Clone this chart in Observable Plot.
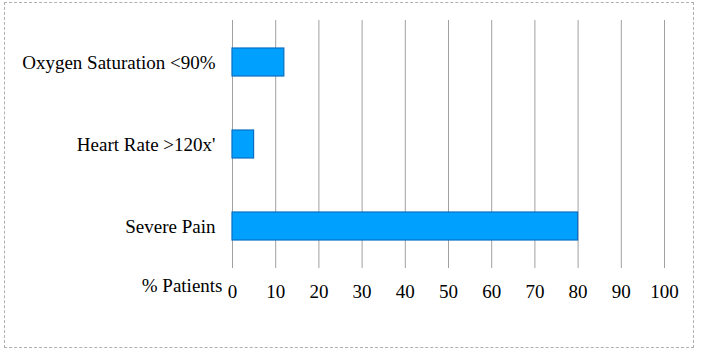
<!DOCTYPE html>
<html>
<head>
<meta charset="utf-8">
<script src="https://cdn.jsdelivr.net/npm/d3@7"></script>
<script src="https://cdn.jsdelivr.net/npm/@observablehq/plot@0.6"></script>
<style>
  html, body { margin: 0; padding: 0; background: #fff; }
  #wrap { position: relative; width: 701px; height: 353px; }
  #border { position: absolute; left: 4px; top: 2px; width: 690px; height: 346px; border: 1px dashed #b0b0b0; box-sizing: border-box; pointer-events: none; }
  #chart svg { display: block; font-family: "Liberation Serif"; font-size: 19px; }
  #chart svg text { font-family: "Liberation Serif" !important; font-size: 19px !important; fill: #000 !important; }
</style>
</head>
<body>
<div id="wrap">
  <div id="chart"></div>
  <div id="border"></div>
</div>
<script>
const categories = ["Oxygen Saturation <90%", "Heart Rate >120x'", "Severe Pain"];
const values = [12, 5, 80];
const xTicks = [0, 10, 20, 30, 40, 50, 60, 70, 80, 90, 100];
const axisTitle = "% Patients";

const data = categories.map((c, i) => ({category: c, value: values[i]}));

const chart = Plot.plot({
  width: 701,
  height: 353,
  marginLeft: 232,
  marginRight: 37,
  marginTop: 20,
  marginBottom: 85,
  style: {background: "transparent"},
  x: {domain: [0, 100], ticks: xTicks, tickSize: 0, tickPadding: 16, label: null},
  y: {domain: categories, paddingInner: 0.66, paddingOuter: 0.33, tickSize: 0, tickPadding: 17, label: null},
  marks: [
    Plot.gridX(xTicks, {stroke: "#a0a0a0", strokeOpacity: 1, strokeWidth: 1}),
    Plot.barX(data, {x: "value", y: "category", fill: "#00A0FF", stroke: "#0a6fc2", strokeWidth: 1.2}),
    Plot.text([axisTitle], {x: 0, frameAnchor: "bottom", dy: 23, dx: -10, textAnchor: "end", fontSize: 19, fontFamily: "Liberation Serif", fill: "#000"})
  ]
});
document.getElementById("chart").appendChild(chart);
</script>
</body>
</html>
